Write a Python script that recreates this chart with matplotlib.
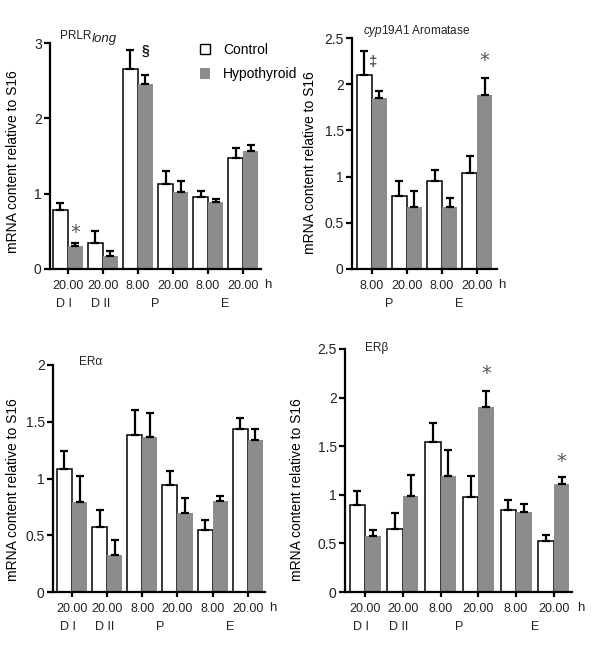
import matplotlib
matplotlib.use("Agg")
import matplotlib.pyplot as plt
import numpy as np
from matplotlib.patches import Patch
from matplotlib.transforms import ScaledTranslation

plt.rcParams['font.family'] = ['Liberation Sans', 'DejaVu Sans']
plt.rcParams['mathtext.fontset'] = 'custom'
plt.rcParams['mathtext.rm'] = 'Liberation Sans'
plt.rcParams['mathtext.it'] = 'Liberation Sans:italic'

# ---------------- data ----------------
times6 = ["20.00", "20.00", "8.00", "20.00", "8.00", "20.00"]
phases6 = ["D I", "D II", "P", "E"]
times4 = ["8.00", "20.00", "8.00", "20.00"]
phases4 = ["P", "E"]

prlr_ctrl = [0.78, 0.345, 2.65, 1.13, 0.955, 1.48]
prlr_ctrl_err = [0.10, 0.155, 0.26, 0.17, 0.075, 0.12]
prlr_hypo = [0.30, 0.17, 2.46, 1.02, 0.885, 1.56]
prlr_hypo_err = [0.045, 0.07, 0.115, 0.15, 0.045, 0.08]

arom_ctrl = [2.10, 0.79, 0.953, 1.036]
arom_ctrl_err = [0.26, 0.167, 0.117, 0.184]
arom_hypo = [1.856, 0.67, 0.676, 1.878]
arom_hypo_err = [0.074, 0.17, 0.09, 0.192]

era_ctrl = [1.085, 0.57, 1.38, 0.947, 0.55, 1.434]
era_ctrl_err = [0.155, 0.15, 0.22, 0.123, 0.08, 0.10]
era_hypo = [0.79, 0.33, 1.37, 0.70, 0.80, 1.34]
era_hypo_err = [0.23, 0.13, 0.205, 0.124, 0.05, 0.10]

erb_ctrl = [0.897, 0.647, 1.54, 0.973, 0.84, 0.527]
erb_ctrl_err = [0.137, 0.163, 0.196, 0.217, 0.11, 0.063]
erb_hypo = [0.572, 0.99, 1.195, 1.907, 0.82, 1.11]
erb_hypo_err = [0.062, 0.215, 0.265, 0.163, 0.09, 0.07]

W, H = 600, 646
fig = plt.figure(figsize=(W / 100, H / 100), dpi=100)

GRAY = '#8c8c8c'
TXT = '#222222'
STAR = '#555555'


def rect(left, right, ybot, ytop):
    return [left / W, (H - ybot) / H, (right - left) / W, (ybot - ytop) / H]


def below(ax, px):
    return ax.get_xaxis_transform() + ScaledTranslation(0, -px / 100,
                                                        fig.dpi_scale_trans)


def panel(r, ctrl, cerr, hypo, herr, times, phases, phase_x, ymax, ystep,
          xlim, bw, ylab_x, ylab_y):
    ax = fig.add_axes(rect(*r))
    n = len(ctrl)
    x = np.arange(n)
    zeros = np.zeros(n)
    ax.bar(x - bw / 2, ctrl, bw, facecolor='white', edgecolor='black',
           linewidth=1.1, zorder=2)
    ax.bar(x + bw / 2, hypo, bw, facecolor=GRAY, edgecolor='none', zorder=2)
    ax.errorbar(x - bw / 2, ctrl, yerr=[zeros, cerr], fmt='none',
                ecolor='black', elinewidth=1.6, capsize=3, capthick=1.6,
                zorder=3)
    ax.errorbar(x + bw / 2, hypo, yerr=[zeros, herr], fmt='none',
                ecolor='black', elinewidth=1.6, capsize=3, capthick=1.6,
                zorder=3)
    ax.set_xlim(*xlim)
    ax.set_ylim(0, ymax)
    yt = np.arange(0, ymax + 1e-9, ystep)
    ax.set_yticks(yt)
    ax.set_yticklabels([('%g' % v) for v in yt], fontsize=10, color=TXT)
    ax.set_xticks(x)
    ax.set_xticklabels([])
    for s in ['top', 'right']:
        ax.spines[s].set_visible(False)
    for s in ['left', 'bottom']:
        ax.spines[s].set_linewidth(1.6)
    ax.tick_params(axis='y', length=4, width=1.6, pad=2)
    ax.tick_params(axis='x', length=3.5, width=1.6)
    ax.patch.set_alpha(0)
    for xi, lab in zip(x, times):
        ax.text(xi, 0, lab, transform=below(ax, 17), ha='center',
                va='center', fontsize=9, color=TXT)
    for lab, px in zip(phases, phase_x):
        ax.text(px, 0, lab, transform=below(ax, 35), ha='center',
                va='center', fontsize=9, color=TXT)
    ax.text(n - 1 + 0.72, 0, 'h', transform=below(ax, 16), ha='center',
            va='center', fontsize=9.5, color=TXT)
    fig.text(ylab_x / W, 1 - ylab_y / H, 'mRNA content relative to S16',
             rotation=90, ha='center', va='center', fontsize=10, color='black')
    return ax


# Panel 1: PRLR long
ax1 = panel((50, 261, 269, 43), prlr_ctrl, prlr_ctrl_err, prlr_hypo,
            prlr_hypo_err, times6, phases6, [-0.12, 0.92, 2.5, 4.5],
            3, 1, (-0.514, 5.514), 0.4286, 13, 162)
t_prlr = fig.text(60 / W, 1 - 36 / H, 'PRLR', fontsize=8.5, ha='left',
                  va='center', color=TXT)
fig.canvas.draw()
bb = t_prlr.get_window_extent()
fig.text(bb.x1 / W + 0.5 / W, 1 - 39 / H, 'long', fontsize=9.5,
         style='italic', ha='left', va='center', color=TXT)
ax1.text(0 + 0.2143, 0.48, '*', fontsize=14, color=STAR,
         ha='center', va='center', family='DejaVu Sans')
ax1.text(2 + 0.2143, 2.9, '§', fontsize=10, fontweight='bold', color=TXT,
         ha='center', va='center')
leg = ax1.legend(handles=[Patch(facecolor='white', edgecolor='black', lw=1.0),
                          Patch(facecolor=GRAY, edgecolor='none')],
                 labels=['Control', 'Hypothyroid'], loc='upper left',
                 bbox_to_anchor=(193 / W, 1 - 36 / H),
                 bbox_transform=fig.transFigure, frameon=False,
                 fontsize=10, handlelength=0.75, handleheight=0.75,
                 handletextpad=0.9, labelspacing=0.75, borderpad=0)

# Panel 2: Aromatase
ax2 = panel((352, 497, 269, 38), arom_ctrl, arom_ctrl_err, arom_hypo,
            arom_hypo_err, times4, phases4, [0.5, 2.5],
            2.5, 0.5, (-0.571, 3.571), 0.4286, 310, 163)
fig.text(417 / W, 1 - 31 / H, r'$\mathit{cyp19A1}$ Aromatase', fontsize=8.5,
         ha='center', va='center', color=TXT)
ax2.text(0.02, 2.24, '‡', fontsize=11, color=TXT, ha='center', va='center')
ax2.text(3 + 0.2143, 2.26, '*', fontsize=14, color=STAR,
         ha='center', va='center', family='DejaVu Sans')

# Panel 3: ER alpha
ax3 = panel((53, 265, 592, 365), era_ctrl, era_ctrl_err, era_hypo,
            era_hypo_err, times6, phases6, [-0.12, 0.92, 2.5, 4.5],
            2, 0.5, (-0.54, 5.49), 0.4286, 13, 490)
fig.text(79 / W, 1 - 362 / H, 'ERα', fontsize=8.5, ha='left', va='center',
         color=TXT)

# Panel 4: ER beta
ax4 = panel((345, 572, 592, 349), erb_ctrl, erb_ctrl_err, erb_hypo,
            erb_hypo_err, times6, phases6, [-0.12, 0.9, 2.5, 4.5],
            2.5, 0.5, (-0.53, 5.48), 0.41, 297, 490)
fig.text(365 / W, 1 - 348 / H, 'ERβ', fontsize=8.5, ha='left', va='center',
         color=TXT)
ax4.text(3 + 0.205, 2.25, '*', fontsize=14, color=STAR,
         ha='center', va='center', family='DejaVu Sans')
ax4.text(5 + 0.205, 1.34, '*', fontsize=14, color=STAR,
         ha='center', va='center', family='DejaVu Sans')

fig.savefig('out.png', dpi=100, facecolor='white')
